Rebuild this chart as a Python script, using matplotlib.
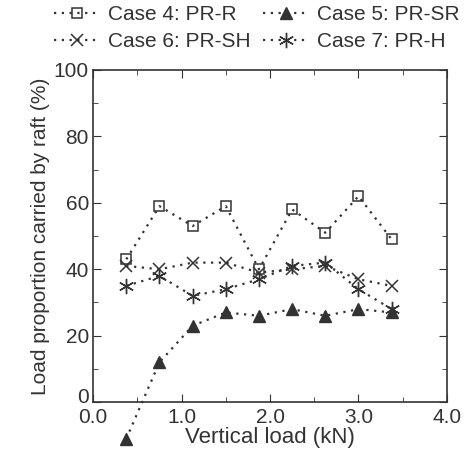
import numpy as np
import matplotlib
matplotlib.use('Agg')
import matplotlib.pyplot as plt
from matplotlib.ticker import MultipleLocator
from matplotlib.transforms import ScaledTranslation

plt.rcParams['font.family'] = ['Liberation Sans', 'DejaVu Sans']

load = [0.375, 0.75, 1.125, 1.5, 1.875, 2.25, 2.625, 3.0, 3.375]
case4 = [43, 59, 53, 59, 40, 58, 51, 62, 49]
case5 = [-11, 12, 23, 27, 26, 28, 26, 28, 27]
case6 = [41, 40, 42, 42, 39, 40, 41, 37, 35]
case7 = [35, 38, 32, 34, 37, 41, 42, 34, 28]

c = '#333333'
fig = plt.figure(figsize=(4.68, 4.57), dpi=100)
ax = fig.add_axes([0.199, 0.120, 0.756, 0.727])

ls = dict(linestyle=(0, (1, 2.5)), linewidth=1.6, color=c)
l4, = ax.plot(load, case4, marker='s', markersize=7, markerfacecolor='none',
              markeredgecolor=c, markeredgewidth=1.1, clip_on=False, **ls)
l5, = ax.plot(load, case5, marker='^', markersize=9, markerfacecolor=c,
              markeredgecolor=c, clip_on=False, **ls)
l6, = ax.plot(load, case6, marker='x', markersize=9, markeredgecolor=c,
              markeredgewidth=1.1, clip_on=False, **ls)
l7, = ax.plot(load, case7, marker=(6, 2, 0), markersize=11, markeredgecolor=c,
              markeredgewidth=1.0, clip_on=False, **ls)

ax.set_xlim(0, 4)
ax.set_ylim(0, 100)
ax.xaxis.set_minor_locator(MultipleLocator(0.5))
ax.yaxis.set_minor_locator(MultipleLocator(10))
ax.set_xticks([0, 1, 2, 3, 4])
ax.set_xticklabels(['0.0', '1.0', '2.0', '3.0', '4.0'])
ax.set_yticks([0, 20, 40, 60, 80, 100])
ax.tick_params(which='both', direction='in', top=True, right=True, colors=c,
               labelsize=15, labelcolor=c)
ax.tick_params(axis='x', pad=4)
ax.tick_params(axis='y', pad=3)
ax.tick_params(which='major', length=6)
ax.tick_params(which='minor', length=3.5)
for s in ax.spines.values():
    s.set_color(c)
    s.set_linewidth(1.2)

# lift the "0" y label a little so it clears the "0.0" x label
t0 = ax.yaxis.get_major_ticks()[0]
t0.label1.set_verticalalignment('bottom')
t0.label1.set_transform(t0.label1.get_transform()
                        + ScaledTranslation(0, -3.5 / 72, fig.dpi_scale_trans))

ax.set_xlabel('Vertical load (kN)', fontsize=16, color=c, labelpad=0)
ax.set_ylabel('Load proportion carried by raft (%)', fontsize=15, color=c,
              labelpad=3)

fig.legend([l4, l6, l5, l7],
           ['Case 4: PR-R', 'Case 6: PR-SH', 'Case 5: PR-SR', 'Case 7: PR-H'],
           loc='upper left', bbox_to_anchor=(0.075, 1.03), ncol=2, frameon=False,
           fontsize=15, handlelength=2.2, columnspacing=0.6, labelspacing=0.4,
           handletextpad=0.4, labelcolor=c)

fig.savefig('out.png', dpi=100)
